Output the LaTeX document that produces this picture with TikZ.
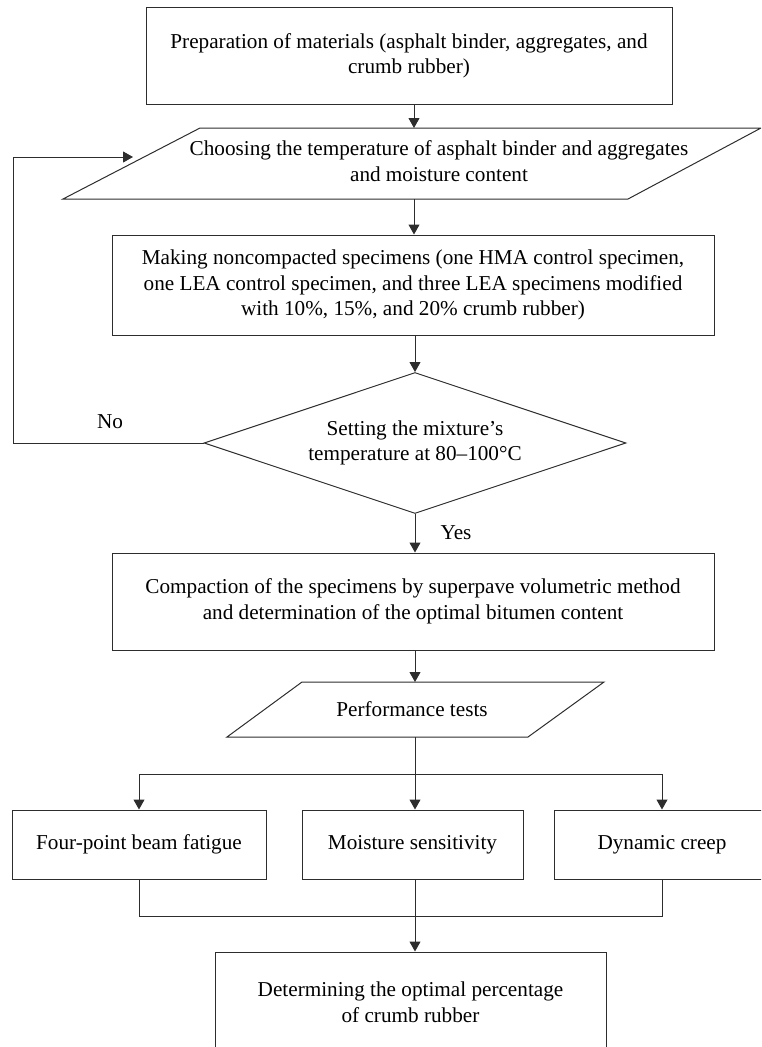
\documentclass[tikz,border=0pt]{standalone}
\usepackage{fontspec}
\setmainfont{Liberation Serif}
\usepackage{tikz}
\usetikzlibrary{arrows.meta,shapes.geometric,positioning}
\definecolor{flowline}{RGB}{45,45,45}
\tikzstyle{arrow} = [line width=1pt,-{Triangle[length=10pt,width=11pt]},color=flowline]
\tikzstyle{line} = [line width=1pt,color=flowline]
\tikzstyle{iobox} = [line width=1pt,draw=flowline,line join=miter]
\tikzstyle{procbox} = [rectangle, draw=flowline, line width=1pt, align=center, inner sep=0pt, font=\fontsize{21.2}{25.5}\selectfont]
\tikzstyle{decision} = [diamond, aspect=3, draw=flowline, line width=1pt, align=center, inner sep=0pt, font=\fontsize{21.2}{25.5}\selectfont]
\tikzstyle{label} = [align=center, inner sep=0pt, font=\fontsize{21.2}{25.5}\selectfont]

\begin{document}
\begin{tikzpicture}[x=1pt,y=-1pt]
\useasboundingbox (0,0) rectangle (761,1047);
\clip (0,0) rectangle (761,1047);

% Materials
\node[procbox, minimum width=526pt, minimum height=97pt] (prep) at (409,56) {Preparation of materials (asphalt binder, aggregates, and\\crumb rubber)};

% Temperature choice
\node[label] (choose) at (439,161) {Choosing the temperature of asphalt binder and aggregates\\and moisture content};
\draw[iobox] (63,199) -- (628,199) -- (761,128) -- (200,128) -- cycle;
\coordinate (choosetop) at (414,128);
\coordinate (choosebot) at (414,199);

% Specimens
\node[procbox, minimum width=602pt, minimum height=100pt] (make) at (413,285) {Making noncompacted specimens (one HMA control specimen,\\one LEA control specimen, and three LEA specimens modified\\with 10\%, 15\%, and 20\% crumb rubber)};

% Check
\node[decision, minimum width=422pt, minimum height=141pt] (setting) at (415,443) {Setting the mixture’s\\temperature at 80--100°C};

% Compaction
\node[procbox, minimum width=602pt, minimum height=97pt] (compact) at (413,601.5) {Compaction of the specimens by superpave volumetric method\\and determination of the optimal bitumen content};

% Tests
\node[label] (perf) at (412,709) {Performance tests};
\draw[iobox] (227,737) -- (528,737) -- (604,682) -- (302,682) -- cycle;
\coordinate (perftop) at (415,682);
\coordinate (perfbot) at (415,737);

\node[procbox, minimum width=254pt, minimum height=69pt] (fatigue) at (139,844.5) {Four-point beam fatigue};
\node[procbox, minimum width=221pt, minimum height=69pt] (moisture) at (412.5,844.5) {Moisture sensitivity};
\node[procbox, minimum width=216pt, minimum height=69pt] (creep) at (662,844.5) {Dynamic creep};

% Result
\node[procbox, minimum width=391pt, minimum height=100pt] (optimal) at (410.5,1002) {Determining the optimal percentage\\of crumb rubber};

% Arrows
\coordinate (back) at (133,157);
\coordinate (loop) at (13,443);
\coordinate (split) at (415,774);
\coordinate (join) at (415,916);
\draw[arrow] (prep.south -| choosetop) -- (choosetop);
\draw[arrow] (choosebot) -- (choosebot |- make.north);
\draw[arrow] (make.south -| setting.north) -- (setting.north);
\draw[arrow] (setting.west) -- (loop) |- (back);
\draw[arrow] (setting.south) -- (setting.south |- compact.north);
\draw[arrow] (compact.south -| perftop) -- (perftop);
\draw[arrow] (perfbot) -- (perfbot |- moisture.north);
\draw[arrow] (split) -| (fatigue);
\draw[arrow] (split) -| (creep);
\draw[line] (fatigue) |- (join) -| (creep);
\draw[line] (moisture.south -| join) -- (join);
\draw[arrow] (join) -- (join |- optimal.north);

% Branch labels
\node[label] (no) at (110,422) {No};
\node[label] (yes) at (456,533) {Yes};
\end{tikzpicture}
\end{document}
